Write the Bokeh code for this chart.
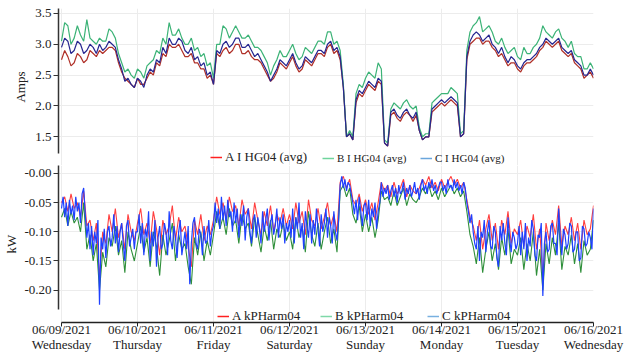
import pandas as pd
from bokeh.plotting import figure
from bokeh.layouts import column
from bokeh.models import (Range1d, FixedTicker, DatetimeAxis, DatetimeTickFormatter,
                          Grid, Legend, LegendItem, NumeralTickFormatter)
from bokeh.embed import file_html
from bokeh.resources import INLINE

# ---------------- data ----------------
day_ticks = pd.date_range("2021-06-09", "2021-06-16", freq="D")
top_times = pd.date_range("2021-06-09", periods=169, freq="h")
hour_times = pd.date_range("2021-06-09", periods=169, freq="h")
half_times = pd.date_range("2021-06-09", periods=337, freq="30min")

amps_ticks = [1.5, 2.0, 2.5, 3.0, 3.5]
kw_ticks = [-0.20, -0.15, -0.10, -0.05, 0.0]

top_labels = ["A I HG04 (avg)", "B I HG04 (avg)", "C I HG04 (avg)"]
bot_labels = ["A kPHarm04", "B kPHarm04", "C kPHarm04"]

amps_A = [2.75, 2.9, 2.8, 2.65, 2.7, 2.85, 2.8, 2.7, 2.75, 2.9, 2.85, 2.8, 2.9, 2.85, 2.9, 2.95,
          2.95, 2.9, 2.7, 2.55, 2.45, 2.4, 2.35, 2.3, 2.45,
          2.35, 2.35, 2.45, 2.55, 2.5, 2.7, 2.65, 2.85, 2.8, 3.0, 2.95, 2.95, 3.0, 2.9, 2.8, 2.8,
          2.85, 2.7, 2.7, 2.6, 2.6, 2.45, 2.5, 2.35,
          2.85, 2.8, 2.9, 2.95, 2.85, 2.9, 3.0, 3.0, 2.85, 2.85, 2.9, 2.8, 2.75, 2.75, 2.7, 2.6,
          2.5, 2.4, 2.45, 2.55, 2.7, 2.65, 2.6, 2.7,
          2.8, 2.65, 2.55, 2.6, 2.75, 2.7, 2.65, 2.75, 2.85, 2.85, 2.8, 2.95, 3.0, 2.85, 2.9, 2.75,
          2.3, 1.5, 1.55, 1.45, 2.05, 2.2, 2.15, 2.25,
          2.35, 2.3, 2.25, 2.4, 2.35, 1.4, 1.35, 1.85, 1.9, 1.8, 1.75, 1.85, 1.9, 1.85, 1.75, 1.85,
          1.6, 1.45, 1.5, 1.5, 1.9, 1.95, 2.0, 2.05,
          2.0, 2.05, 2.1, 2.05, 2.0, 1.5, 1.55, 2.75, 3.0, 3.05, 3.1, 3.1, 3.0, 3.05, 3.05, 2.95,
          2.9, 2.8, 2.85, 2.75, 2.65, 2.7, 2.7, 2.6,
          2.55, 2.65, 2.7, 2.7, 2.75, 2.8, 2.9, 2.95, 3.05, 3.0, 2.95, 3.0, 3.05, 2.9, 2.85, 2.8,
          2.85, 2.7, 2.65, 2.6, 2.45, 2.5, 2.55, 2.45]
amps_B = [3.05, 3.35, 3.3, 3.0, 3.1, 3.3, 3.15, 3.05, 3.4, 3.1, 3.05, 3.0, 3.1, 3.05, 3.05, 3.25,
          3.2, 3.1, 2.85, 2.7, 2.55, 2.6, 2.5, 2.45, 2.6,
          2.55, 2.45, 2.65, 2.7, 2.75, 2.9, 2.85, 3.1, 3.0, 3.35, 3.15, 3.15, 3.25, 3.1, 3.0, 3.0,
          3.1, 2.9, 2.95, 2.8, 2.85, 2.65, 2.7, 2.45,
          3.0, 3.0, 3.3, 3.25, 3.1, 3.2, 3.3, 3.2, 3.1, 3.1, 3.15, 3.05, 2.95, 2.95, 2.9, 2.8,
          2.7, 2.5, 2.65, 2.75, 2.9, 2.8, 2.8, 2.9,
          3.0, 2.85, 2.75, 2.8, 2.95, 2.9, 2.85, 2.95, 3.05, 3.05, 3.0, 3.2, 3.2, 3.0, 3.05, 2.9,
          2.35, 1.5, 1.6, 1.5, 2.2, 2.35, 2.3, 2.45,
          2.55, 2.5, 2.45, 2.7, 2.6, 1.45, 1.4, 1.95, 2.05, 2.0, 1.95, 2.05, 2.1, 2.0, 1.95, 2.0,
          1.65, 1.5, 1.55, 1.55, 2.05, 2.1, 2.15, 2.2,
          2.2, 2.2, 2.3, 2.25, 2.2, 1.55, 1.6, 2.9, 3.2, 3.3, 3.35, 3.45, 3.2, 3.25, 3.3, 3.2,
          3.05, 3.0, 3.1, 2.95, 2.85, 2.9, 2.95, 2.8,
          2.75, 2.95, 2.85, 2.85, 2.95, 3.0, 3.1, 3.3, 3.2, 3.15, 3.1, 3.2, 3.25, 3.1, 3.05, 2.95,
          3.05, 2.85, 2.8, 2.8, 2.6, 2.6, 2.7, 2.6]
amps_C = [2.95, 3.1, 3.05, 2.85, 2.9, 3.05, 3.0, 2.85, 2.9, 3.0, 2.95, 2.85, 3.0, 2.9, 2.95, 3.05,
          3.0, 2.95, 2.75, 2.6, 2.4, 2.45, 2.35, 2.3, 2.45,
          2.4, 2.3, 2.5, 2.6, 2.55, 2.75, 2.7, 2.95, 2.85, 3.1, 3.0, 3.0, 3.1, 3.05, 2.9, 2.85,
          2.95, 2.75, 2.8, 2.65, 2.7, 2.5, 2.55, 2.35,
          2.9, 2.85, 3.0, 3.05, 2.95, 3.0, 3.1, 3.1, 2.95, 2.95, 3.0, 2.9, 2.8, 2.85, 2.75, 2.65,
          2.55, 2.4, 2.5, 2.6, 2.75, 2.7, 2.65, 2.75,
          2.85, 2.7, 2.6, 2.65, 2.8, 2.75, 2.7, 2.8, 2.9, 2.9, 2.85, 3.0, 3.05, 2.9, 2.95, 2.8,
          2.3, 1.5, 1.55, 1.45, 2.1, 2.25, 2.2, 2.3,
          2.4, 2.35, 2.3, 2.45, 2.4, 1.4, 1.35, 1.9, 1.95, 1.85, 1.8, 1.9, 1.95, 1.85, 1.8, 1.9,
          1.6, 1.45, 1.5, 1.5, 1.95, 2.0, 2.05, 2.1,
          2.05, 2.1, 2.15, 2.1, 2.05, 1.5, 1.55, 2.8, 3.05, 3.15, 3.2, 3.15, 3.05, 3.1, 3.15, 3.0,
          2.95, 2.85, 2.95, 2.8, 2.7, 2.8, 2.75, 2.65,
          2.6, 2.7, 2.75, 2.75, 2.8, 2.85, 2.95, 3.0, 3.1, 3.05, 3.0, 3.05, 3.1, 2.95, 2.9, 2.85,
          2.9, 2.75, 2.7, 2.65, 2.5, 2.5, 2.6, 2.5]

kw_A = [-0.05, -0.04, -0.065, -0.035, -0.06, -0.05, -0.075, -0.03, -0.09, -0.08, -0.115, -0.085,
        -0.18, -0.10, -0.12, -0.07, -0.10, -0.06, -0.11, -0.085, -0.13, -0.07, -0.10, -0.115,
        -0.085, -0.06, -0.105, -0.085, -0.12, -0.065, -0.095, -0.14, -0.08, -0.105, -0.09, -0.055,
        -0.115, -0.075, -0.10, -0.09, -0.125, -0.16, -0.08, -0.105, -0.07, -0.115, -0.09, -0.105,
        -0.08, -0.04, -0.07, -0.05, -0.08, -0.04, -0.065, -0.055, -0.09, -0.045, -0.07, -0.06,
        -0.095, -0.05, -0.08, -0.105, -0.065, -0.09, -0.055, -0.10, -0.07, -0.085, -0.06, -0.09,
        -0.07, -0.095, -0.05, -0.085, -0.065, -0.105, -0.045, -0.08, -0.09, -0.06, -0.095, -0.075,
        -0.05, -0.09, -0.07, -0.10, -0.015, -0.005, -0.025, -0.01, -0.045, -0.055, -0.035, -0.065,
        -0.045, -0.07, -0.05, -0.08, -0.05, -0.015, -0.03, -0.02, -0.04, -0.015, -0.035, -0.025,
        -0.01, -0.04, -0.02, -0.03, -0.035, -0.025, -0.01, -0.02, -0.005, -0.025, -0.015, -0.03,
        -0.01, -0.025, -0.015, -0.005, -0.02, -0.01, -0.025, -0.015, -0.045, -0.075, -0.09, -0.115,
        -0.08, -0.13, -0.095, -0.07, -0.115, -0.085, -0.13, -0.08, -0.105, -0.065, -0.12, -0.095,
        -0.105, -0.08, -0.125, -0.09, -0.11, -0.07, -0.13, -0.095, -0.18, -0.085, -0.115, -0.08,
        -0.105, -0.055, -0.125, -0.09, -0.105, -0.075, -0.115, -0.085, -0.13, -0.08, -0.105, -0.095,
        -0.055]
kw_B = [-0.075, -0.06, -0.09, -0.065, -0.085, -0.075, -0.10, -0.05, -0.13, -0.105, -0.15, -0.12,
        -0.20, -0.135, -0.16, -0.11, -0.125, -0.09, -0.14, -0.115, -0.17, -0.10, -0.13, -0.15,
        -0.12, -0.09, -0.135, -0.11, -0.16, -0.10, -0.125, -0.175, -0.105, -0.14, -0.115, -0.085,
        -0.15, -0.105, -0.13, -0.12, -0.16, -0.19, -0.11, -0.14, -0.10, -0.15, -0.115, -0.14,
        -0.105, -0.065, -0.095, -0.075, -0.105, -0.06, -0.09, -0.08, -0.12, -0.07, -0.095, -0.085,
        -0.125, -0.075, -0.105, -0.135, -0.09, -0.115, -0.08, -0.13, -0.095, -0.11, -0.085, -0.115,
        -0.10, -0.13, -0.075, -0.11, -0.09, -0.135, -0.065, -0.105, -0.125, -0.085, -0.13, -0.10,
        -0.075, -0.12, -0.095, -0.135, -0.03, -0.02, -0.04, -0.025, -0.07, -0.085, -0.055, -0.10,
        -0.07, -0.10, -0.075, -0.11, -0.08, -0.03, -0.045, -0.04, -0.055, -0.03, -0.055, -0.04,
        -0.025, -0.055, -0.035, -0.045, -0.05, -0.04, -0.025, -0.035, -0.02, -0.04, -0.03, -0.045,
        -0.025, -0.04, -0.03, -0.02, -0.035, -0.025, -0.04, -0.03, -0.065, -0.105, -0.125, -0.155,
        -0.11, -0.17, -0.13, -0.10, -0.15, -0.12, -0.165, -0.11, -0.14, -0.095, -0.155, -0.13,
        -0.14, -0.11, -0.165, -0.12, -0.15, -0.10, -0.175, -0.13, -0.20, -0.12, -0.155, -0.11,
        -0.14, -0.085, -0.165, -0.125, -0.14, -0.105, -0.155, -0.12, -0.17, -0.115, -0.14, -0.13,
        -0.08]
kw_C = [-0.06, -0.04, -0.075, -0.05, -0.09, -0.045, -0.07, -0.055, -0.08, -0.04, -0.065, -0.05,
        -0.085, -0.035, -0.025, -0.07,
        -0.11, -0.085, -0.13, -0.09, -0.14, -0.10, -0.12, -0.08, -0.225, -0.11, -0.13, -0.095,
        -0.145, -0.10, -0.09, -0.125,
        -0.11, -0.07, -0.12, -0.09, -0.135, -0.10, -0.085, -0.12, -0.15, -0.09, -0.08, -0.125,
        -0.11, -0.095, -0.13, -0.10,
        -0.10, -0.07, -0.12, -0.085, -0.14, -0.095, -0.11, -0.065, -0.15, -0.10, -0.125, -0.08,
        -0.16, -0.11, -0.09, -0.13,
        -0.12, -0.085, -0.10, -0.14, -0.065, -0.115, -0.13, -0.09, -0.11, -0.145, -0.10, -0.08,
        -0.14, -0.12, -0.10, -0.13,
        -0.09, -0.19, -0.12, -0.085, -0.075, -0.12, -0.13, -0.095, -0.105, -0.14, -0.09, -0.12,
        -0.115, -0.08, -0.125, -0.10,
        -0.09, -0.05, -0.085, -0.06, -0.095, -0.04, -0.08, -0.055, -0.09, -0.045, -0.075, -0.065,
        -0.10, -0.05, -0.085, -0.06,
        -0.11, -0.07, -0.09, -0.055, -0.115, -0.075, -0.06, -0.10, -0.12, -0.08, -0.07, -0.11,
        -0.075, -0.095, -0.12, -0.065,
        -0.10, -0.08, -0.06, -0.115, -0.085, -0.07, -0.105, -0.09, -0.06, -0.11, -0.075, -0.095,
        -0.07, -0.12, -0.085, -0.10,
        -0.08, -0.11, -0.06, -0.12, -0.075, -0.095, -0.05, -0.11, -0.085, -0.13, -0.065, -0.09,
        -0.11, -0.07, -0.12, -0.08,
        -0.105, -0.06, -0.095, -0.125, -0.07, -0.10, -0.085, -0.06, -0.11, -0.075, -0.09, -0.12,
        -0.065, -0.10, -0.115, -0.08,
        -0.02, -0.005, -0.025, -0.01, -0.03, -0.015, -0.02, -0.035, -0.05, -0.07, -0.045, -0.08,
        -0.04, -0.065, -0.09, -0.055,
        -0.05, -0.08, -0.045, -0.09, -0.06, -0.075, -0.05, -0.095, -0.065, -0.05, -0.015, -0.04,
        -0.025, -0.035, -0.02, -0.045,
        -0.03, -0.02, -0.04, -0.025, -0.05, -0.02, -0.035, -0.03, -0.015, -0.045, -0.025, -0.035,
        -0.02, -0.04, -0.03, -0.015,
        -0.035, -0.025, -0.045, -0.02, -0.01, -0.03, -0.02, -0.035, -0.015, -0.025, -0.01, -0.03,
        -0.02, -0.035, -0.025, -0.015,
        -0.015, -0.03, -0.02, -0.035, -0.01, -0.025, -0.02, -0.03, -0.01, -0.025, -0.015, -0.03,
        -0.02, -0.035, -0.015, -0.025,
        -0.05, -0.065, -0.085, -0.07, -0.10, -0.12, -0.13, -0.09, -0.15, -0.10, -0.11, -0.08,
        -0.135, -0.10, -0.08, -0.125,
        -0.13, -0.09, -0.10, -0.145, -0.16, -0.09, -0.115, -0.085, -0.12, -0.14, -0.075, -0.11,
        -0.135, -0.10, -0.11, -0.13,
        -0.12, -0.09, -0.14, -0.10, -0.13, -0.085, -0.15, -0.11, -0.125, -0.08, -0.095, -0.14,
        -0.15, -0.105, -0.11, -0.085,
        -0.21, -0.12, -0.10, -0.135, -0.13, -0.09, -0.085, -0.12, -0.12, -0.14, -0.06, -0.11,
        -0.14, -0.095, -0.105, -0.13,
        -0.12, -0.085, -0.09, -0.135, -0.13, -0.10, -0.10, -0.15, -0.145, -0.09, -0.095, -0.125,
        -0.12, -0.10, -0.11, -0.13,
        -0.06]

# ---------------- styling ----------------
SERIF = "Liberation Serif"
TXT = "#222222"
GRID = "#ececec"
top_line_colors = ["#b03028", "#3cb377", "#262690"]
top_legend_colors = ["#ff2020", "#6fd49c", "#6aa6dc"]
bot_line_colors = ["#ff4040", "#2f8f3a", "#1e40ff"]
bot_legend_colors = ["#ff2020", "#7fd8a8", "#78b0e0"]


def ms(t):
    return pd.Timestamp(t).value / 1e6


day_ms = [ms(t) for t in day_ticks]
x_start = ms("2021-06-08 23:03")
x_end = ms("2021-06-16 00:00")
NAN = float("nan")


def style_y(p, label, ticks, fmt, bounds, label_standoff):
    ax = p.yaxis[0]
    ax.ticker = FixedTicker(ticks=ticks)
    ax.formatter = NumeralTickFormatter(format=fmt)
    ax.bounds = bounds
    ax.axis_label = label
    ax.axis_label_text_font = SERIF
    ax.axis_label_text_font_style = "normal"
    ax.axis_label_text_font_size = "13px"
    ax.axis_label_text_color = TXT
    ax.axis_label_standoff = label_standoff
    ax.major_label_text_font = SERIF
    ax.major_label_text_font_size = "13px"
    ax.major_label_text_color = TXT
    ax.major_label_standoff = 2
    ax.major_tick_out = 5
    ax.major_tick_in = 0
    ax.minor_tick_out = 0
    ax.minor_tick_in = 0
    ax.axis_line_color = "#333333"
    ax.axis_line_width = 1.5
    ax.major_tick_line_color = "#333333"
    p.ygrid.grid_line_color = GRID
    p.add_layout(Grid(dimension=0, ticker=FixedTicker(ticks=day_ms),
                      grid_line_color=GRID))


def add_legend(p, label, color, vx, vy, size):
    # legend-only swatch: a line with no drawable points
    r = p.line([x_start, x_end], [NAN, NAN], line_color=color, line_width=1.5)
    leg = Legend(items=[LegendItem(label=label, renderers=[r])],
                 location=(vx, vy), padding=0, margin=0,
                 glyph_width=12, glyph_height=12, label_height=12,
                 label_standoff=3, label_text_font=SERIF, label_text_font_size=size,
                 label_text_color=TXT, border_line_alpha=0, background_fill_alpha=0)
    p.add_layout(leg)


# ---------------- top figure ----------------
p1 = figure(width=640, height=165, x_axis_type=None, output_backend="svg",
            toolbar_location=None, x_range=Range1d(x_start, x_end),
            y_range=Range1d(1.035, 3.58),
            min_border_left=58, min_border_right=47, min_border_top=8,
            min_border_bottom=0)
p1.outline_line_color = None
style_y(p1, "Amps", amps_ticks, "0.0", (1.23, 3.58), 4)
for ys, c in zip([amps_A, amps_B, amps_C], top_line_colors):
    p1.line(top_times, ys, line_color=c, line_width=1.2)
add_legend(p1, top_labels[0], top_legend_colors[0], 152, 0, "13px")
add_legend(p1, top_labels[1], top_legend_colors[1], 264, 1, "11px")
add_legend(p1, top_labels[2], top_legend_colors[2], 362, 1, "11px")

# ---------------- bottom figure ----------------
p2 = figure(width=640, height=189, x_axis_type=None, output_backend="svg",
            toolbar_location=None, x_range=p1.x_range,
            y_range=Range1d(-0.2554, 0.0136),
            min_border_left=58, min_border_right=47, min_border_top=0,
            min_border_bottom=0)
p2.outline_line_color = None
style_y(p2, "kW", kw_ticks, "0.00", (-0.233, 0.0136), 2)
p2.yaxis[0].major_label_overrides = {0: "-0.00"}
p2.line(hour_times, kw_A, line_color=bot_line_colors[0], line_width=1.1)
p2.line(hour_times, kw_B, line_color=bot_line_colors[1], line_width=1.1)
p2.line(half_times, kw_C, line_color=bot_line_colors[2], line_width=1.2)
add_legend(p2, bot_labels[0], bot_legend_colors[0], 159, -2, "13px")
add_legend(p2, bot_labels[1], bot_legend_colors[1], 262, -2, "13px")
add_legend(p2, bot_labels[2], bot_legend_colors[2], 369, -2, "13px")

date_axis = DatetimeAxis(ticker=FixedTicker(ticks=day_ms),
                         formatter=DatetimeTickFormatter(days="%m/%d/%Y", months="%m/%d/%Y",
                                                         hours="%m/%d/%Y"),
                         bounds=(day_ms[0], day_ms[-1]))
day_axis = DatetimeAxis(ticker=FixedTicker(ticks=day_ms),
                        formatter=DatetimeTickFormatter(days="%A", months="%A", hours="%A"))
for ax in (date_axis, day_axis):
    ax.major_label_text_font = SERIF
    ax.major_label_text_font_size = "13px"
    ax.major_label_text_color = TXT
    ax.minor_tick_out = 0
    ax.minor_tick_in = 0
    ax.major_tick_in = 0
date_axis.major_label_standoff = -5
date_axis.major_tick_out = 4
date_axis.axis_line_color = "#222222"
date_axis.axis_line_width = 1.5
date_axis.major_tick_line_color = "#222222"
day_axis.major_label_standoff = -3
day_axis.major_tick_out = 0
day_axis.axis_line_color = None
day_axis.major_tick_line_color = None
p2.add_layout(date_axis, "below")
p2.add_layout(day_axis, "below")

layout = column(p1, p2, spacing=0)
open("out.html", "w").write(file_html(layout, INLINE))
